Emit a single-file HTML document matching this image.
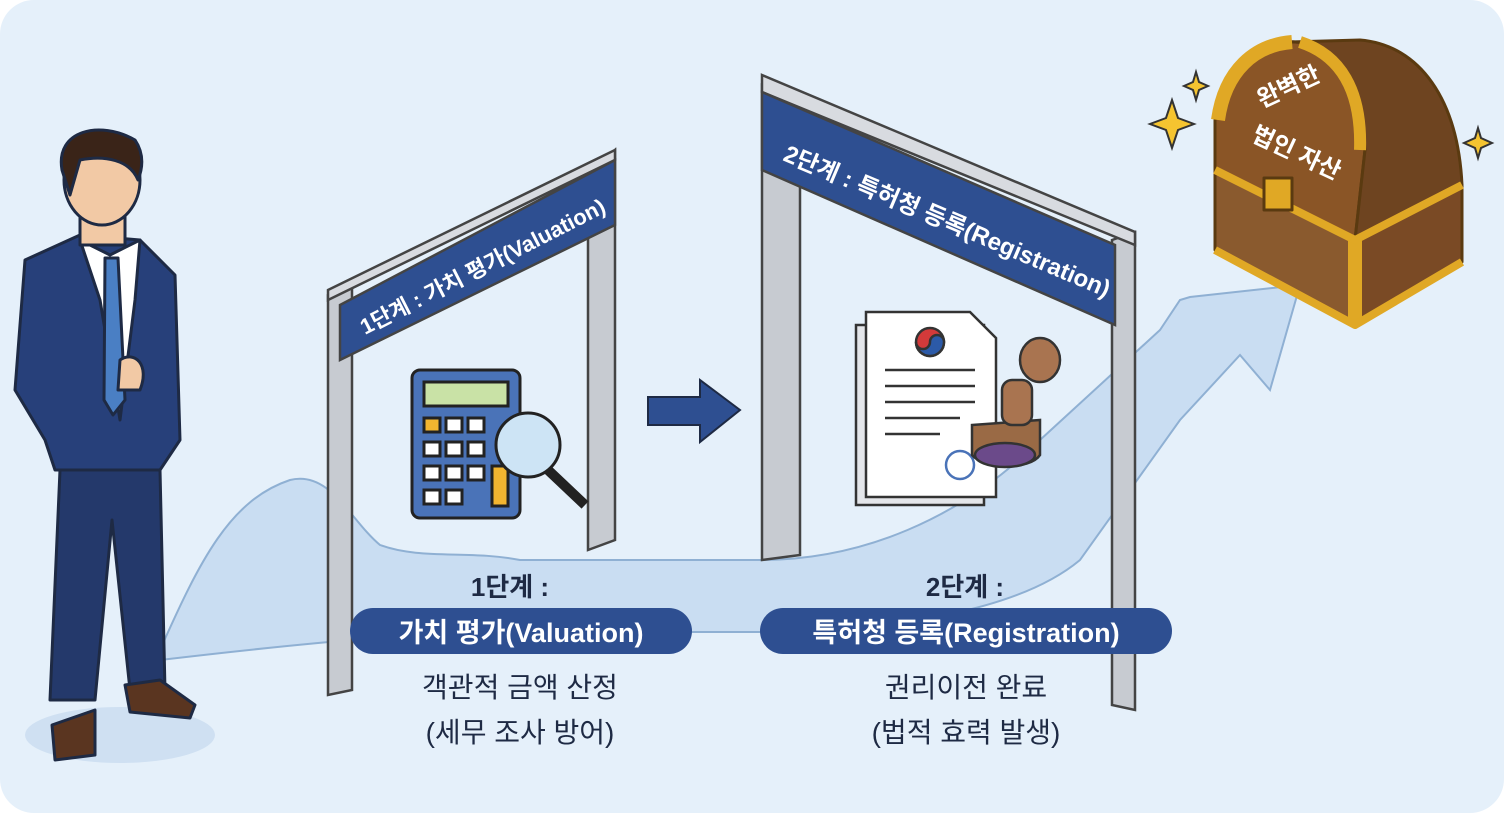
<!DOCTYPE html>
<html><head><meta charset="utf-8"><style>
html,body{margin:0;padding:0;background:#fff;}
svg{display:block}
text{font-family:"Liberation Sans","Noto Sans CJK KR",sans-serif;}
</style></head><body>
<svg width="1504" height="813" viewBox="0 0 1504 813" xmlns="http://www.w3.org/2000/svg">
<rect x="0" y="0" width="1504" height="813" rx="34" fill="#e5f0fa"/>
<!-- ribbon path -->
<path d="M160 650 C200 560 230 500 290 480 C330 470 350 520 380 545 C420 560 470 550 520 560 L760 560 C860 560 960 520 1040 440 L1160 330 L1180 300 L1190 297 L1300 285 L1270 390 L1240 355 L1180 420 L1080 560 C1020 610 900 630 760 632 L520 632 C430 632 330 640 160 660 Z" fill="#c9ddf2" stroke="#8fb0d3" stroke-width="2"/>
<!-- man shadow -->
<ellipse cx="120" cy="735" rx="95" ry="28" fill="#cfe0f2"/>
<!-- man -->
<g stroke="#1e2a44" stroke-width="3" stroke-linejoin="round">
<path d="M50 700 L60 470 L160 470 L165 690 L130 690 L112 520 L95 700 Z" fill="#24396b"/>
<path d="M25 260 L80 235 L140 240 L175 275 L180 440 L160 470 L55 470 L45 440 L15 390 Z" fill="#27407a"/>
<path d="M80 240 L100 300 L120 420 L135 300 L140 240 L110 255 Z" fill="#fff"/>
<path d="M105 258 L118 258 L125 400 L113 415 L104 400 Z" fill="#4a7fc4"/>
<path d="M52 725 L95 710 L95 755 L55 760 Z" fill="#5a3520"/>
<path d="M125 685 L160 680 L195 705 L190 718 L130 712 Z" fill="#5a3520"/>
<rect x="80" y="190" width="45" height="55" fill="#f2c9a5"/>
<ellipse cx="102" cy="180" rx="38" ry="45" fill="#f2c9a5"/>
<path d="M62 170 C55 130 100 120 135 140 C145 155 142 170 138 180 C130 160 105 155 80 160 L70 195 Z" fill="#3a2418"/>
<path d="M120 360 C135 350 150 365 140 390 L118 390 Z" fill="#f2c9a5"/>
</g>
<!-- gate 1 -->
<g stroke="#444" stroke-width="2.5">
<path d="M328 295 L352 282 L352 690 L328 695 Z" fill="#c7cbd1"/>
<path d="M588 175 L615 150 L615 540 L588 550 Z" fill="#c7cbd1"/>
<path d="M328 290 L615 150 L615 160 L328 300 Z" fill="#d8dbe0"/>
<path d="M340 305 L615 160 L615 225 L340 360 Z" fill="#2e4f91"/>
</g>
<text x="0" y="0" transform="translate(365 335) rotate(-27)" font-size="22" font-weight="bold" fill="#fff">1단계 : 가치 평가(Valuation)</text>
<!-- calculator -->
<g stroke="#222" stroke-width="3">
<rect x="412" y="370" width="108" height="148" rx="8" fill="#4a73b8"/>
<rect x="424" y="382" width="84" height="24" fill="#c9e2a6"/>
<g fill="#fff">
<rect x="424" y="418" width="16" height="14"/><rect x="446" y="418" width="16" height="14"/><rect x="468" y="418" width="16" height="14"/>
<rect x="424" y="442" width="16" height="14"/><rect x="446" y="442" width="16" height="14"/><rect x="468" y="442" width="16" height="14"/>
<rect x="424" y="466" width="16" height="14"/><rect x="446" y="466" width="16" height="14"/><rect x="468" y="466" width="16" height="14"/>
<rect x="424" y="490" width="16" height="14"/><rect x="446" y="490" width="16" height="14"/>
</g>
<rect x="424" y="418" width="16" height="14" fill="#f2b530"/>
<rect x="492" y="466" width="16" height="40" fill="#f2b530"/>
<line x1="548" y1="470" x2="585" y2="505" stroke-width="10"/>
<circle cx="528" cy="445" r="32" fill="#cde4f5"/>
</g>
<!-- middle arrow -->
<path d="M648 397 L700 397 L700 380 L740 410 L700 442 L700 425 L648 425 Z" fill="#2e4f91" stroke="#1e2a44" stroke-width="2"/>
<!-- gate 2 -->
<g stroke="#444" stroke-width="2.5">
<path d="M762 85 L800 100 L800 555 L762 560 Z" fill="#c7cbd1"/>
<path d="M1112 240 L1135 232 L1135 710 L1112 705 Z" fill="#c7cbd1"/>
<path d="M762 75 L1135 232 L1135 245 L762 92 Z" fill="#d8dbe0"/>
<path d="M762 92 L1115 245 L1115 325 L762 170 Z" fill="#2e4f91"/>
</g>
<text transform="translate(782 160) rotate(23)" font-size="24" font-weight="bold" fill="#fff">2단계 : 특허청 등록(Registration)</text>
<!-- document -->
<g stroke="#333" stroke-width="2.5">
<rect x="856" y="325" width="128" height="180" fill="#e4e6ea"/>
<path d="M866 312 L970 312 L996 338 L996 497 L866 497 Z" fill="#fff"/>
<circle cx="930" cy="342" r="14" fill="#d33a3a"/>
<path d="M916 342 A14 14 0 0 0 944 342 A7 7 0 0 0 930 342 A7 7 0 0 1 916 342Z" fill="#2c5aa8"/>
<line x1="885" y1="370" x2="975" y2="370"/><line x1="885" y1="386" x2="975" y2="386"/><line x1="885" y1="402" x2="975" y2="402"/><line x1="885" y1="418" x2="960" y2="418"/><line x1="885" y1="434" x2="940" y2="434"/>
<circle cx="960" cy="465" r="14" fill="#fff" stroke="#4a73b8"/>
<path d="M972 425 L1040 420 L1040 455 C1030 470 985 470 972 455 Z" fill="#9a6a45"/>
<rect x="1002" y="380" width="30" height="45" rx="10" fill="#a97450"/>
<ellipse cx="1040" cy="360" rx="20" ry="22" fill="#a97450"/>
<ellipse cx="1005" cy="455" rx="30" ry="12" fill="#6b4a8a"/>
</g>
<!-- chest -->
<g stroke="#5a3a10" stroke-width="3" stroke-linejoin="round">
<!-- front face -->
<path d="M1215 170 L1355 240 L1355 325 L1215 250 Z" fill="#8a5a2e"/>
<!-- right face -->
<path d="M1355 240 L1462 185 L1462 262 L1355 325 Z" fill="#7a4a25"/>
<!-- lid front (curved) -->
<path d="M1215 170 L1215 120 C1220 70 1250 45 1290 42 C1330 40 1360 80 1365 150 L1355 240 Z" fill="#8a5526"/>
<!-- lid right -->
<path d="M1355 240 L1365 150 C1360 80 1330 40 1290 42 L1360 40 C1420 45 1458 100 1462 185 Z" fill="#6e4420"/>
<path d="M1218 120 C1225 70 1255 45 1292 42" fill="none" stroke="#e0a825" stroke-width="14"/>
<path d="M1360 150 C1362 90 1340 55 1300 42" fill="none" stroke="#e0a825" stroke-width="12"/>
<path d="M1355 240 L1355 325" stroke="#e0a825" stroke-width="14"/>
<path d="M1215 170 L1355 240 L1462 185" fill="none" stroke="#e0a825" stroke-width="8"/>
<path d="M1215 250 L1355 325 L1462 262" fill="none" stroke="#e0a825" stroke-width="8"/>
<rect x="1264" y="178" width="28" height="32" fill="#e0a825"/>
</g>
<text transform="translate(1262 108) rotate(-25)" font-size="24" font-weight="bold" fill="#fff">완벽한</text>
<text transform="translate(1250 140) rotate(25)" font-size="24" font-weight="bold" fill="#fff">법인 자산</text>
<g fill="#f5c430" stroke="#333" stroke-width="2">
<path d="M1172 100 L1178 118 L1194 124 L1178 130 L1172 148 L1166 130 L1150 124 L1166 118Z"/>
<path d="M1196 72 L1199 82 L1208 86 L1199 90 L1196 100 L1193 90 L1184 86 L1193 82Z"/>
<path d="M1478 128 L1481 138 L1492 143 L1481 148 L1478 158 L1475 148 L1464 143 L1475 138Z"/>
</g>
<!-- labels -->
<text x="510" y="596" font-size="26" font-weight="bold" fill="#1e2a44" text-anchor="middle">1단계 :</text>
<rect x="350" y="608" width="342" height="46" rx="23" fill="#2e4f91"/>
<text x="521" y="642" font-size="27" font-weight="bold" fill="#fff" text-anchor="middle">가치 평가(Valuation)</text>
<text x="520" y="697" font-size="28" fill="#1e2a44" text-anchor="middle">객관적 금액 산정</text>
<text x="520" y="742" font-size="28" fill="#1e2a44" text-anchor="middle">(세무 조사 방어)</text>
<text x="965" y="596" font-size="26" font-weight="bold" fill="#1e2a44" text-anchor="middle">2단계 :</text>
<rect x="760" y="608" width="412" height="46" rx="23" fill="#2e4f91"/>
<text x="966" y="642" font-size="27" font-weight="bold" fill="#fff" text-anchor="middle">특허청 등록(Registration)</text>
<text x="966" y="697" font-size="28" fill="#1e2a44" text-anchor="middle">권리이전 완료</text>
<text x="966" y="742" font-size="28" fill="#1e2a44" text-anchor="middle">(법적 효력 발생)</text>
</svg>
</body></html>
